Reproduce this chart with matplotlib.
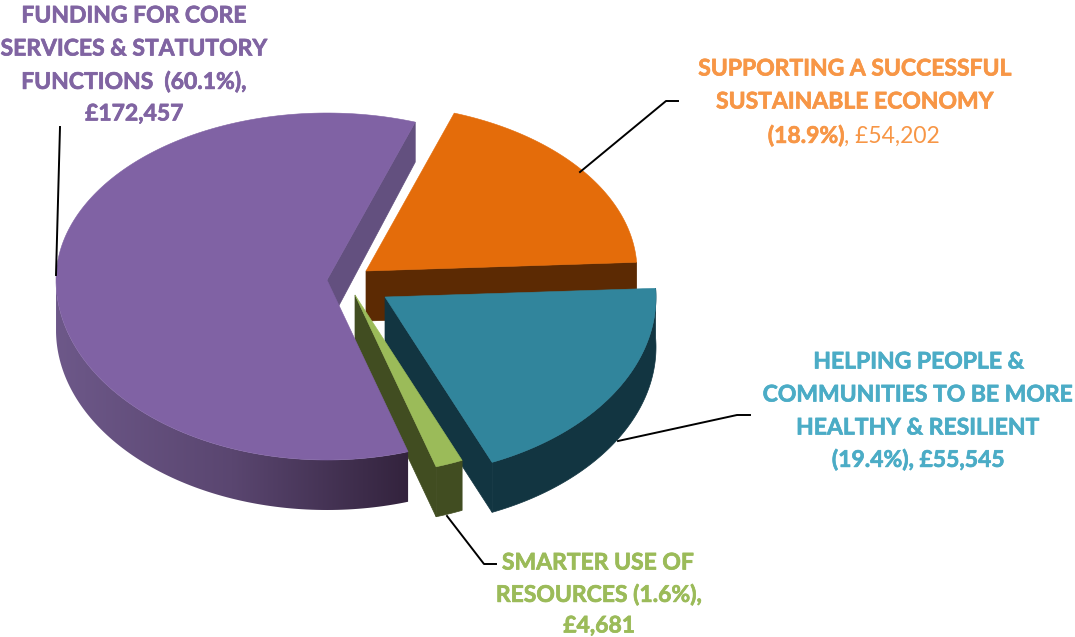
import numpy as np
import matplotlib
matplotlib.use("Agg")
import matplotlib.pyplot as plt
from matplotlib.colors import LinearSegmentedColormap
from matplotlib.patches import Polygon
import matplotlib.patheffects as pe

# data, clockwise from the start angle
names = ["orange", "teal", "green", "purple"]
amounts = [54202, 55545, 4681, 172457]

top_colors = ["#e46c0a", "#31859c", "#9bbb59", "#8062a4"]
side_colors = ["#5c2a03", "#123541", "#414d21", "#63507f"]
apexes = [(366, 271), (385, 297), (355, 295), (327, 280)]

RX = 271
RY_BACK, RY_FRONT = 167, 180  # front of the pie looks bigger
DEPTH = 50
START = 71.0


def rim(apex, a0, a1, n=200):
    t = np.radians(np.linspace(a0, a1, n))
    s = np.sin(t)
    ry = np.where(s > 0, RY_BACK, RY_FRONT)
    return np.column_stack([apex[0] + RX * np.cos(t), apex[1] - ry * s])


fig = plt.figure(figsize=(10.75, 6.37), dpi=100)
ax = fig.add_axes([0, 0, 1, 1])
ax.set_xlim(0, 1075)
ax.set_ylim(637, 0)
ax.axis("off")

sweeps = 360 * np.array(amounts) / sum(amounts)
ends = START - np.cumsum(sweeps)
starts = ends + sweeps
drop = np.array([0, DEPTH])

purple_cmap = LinearSegmentedColormap.from_list("rim", ["#6d5889", "#5a4670", "#33233d"])

for i in [3, 0, 1, 2]:
    a0, a1 = starts[i], ends[i]
    apex = np.array(apexes[i], float)
    arc = rim(apex, a0, a1)
    col = side_colors[i]

    if i == 3:
        # the cut face that shows in the notch
        p = arc[-1]
        ax.add_patch(Polygon([apex, p, p + [0, 40], apex + [0, 48]], fc=col, ec=col, lw=0.5, zorder=i))
        # rim of the big slice, dark towards the right
        front = arc[np.sin(np.radians(np.linspace(a0, a1, len(arc)))) < 0]
        shape = Polygon(np.vstack([front, (front + drop)[::-1]]), fc="none", ec="none", transform=ax.transData)
        ax.add_patch(shape)
        im = ax.imshow(np.linspace(0, 1, 256)[None, :], cmap=purple_cmap, aspect="auto",
                       extent=[front[:, 0].min(), front[:, 0].max(), 600, 200], zorder=i)
        im.set_clip_path(shape)
        ax.set_xlim(0, 1075)
        ax.set_ylim(637, 0)
    else:
        p1 = arc[-1]
        ax.add_patch(Polygon([apex, p1, p1 + drop, apex + drop], fc=col, ec=col, lw=0.5, zorder=i))
        if i != 0:
            ax.add_patch(Polygon(np.vstack([arc, (arc + drop)[::-1]]), fc=col, ec=col, lw=0.5, zorder=i))

    ax.add_patch(Polygon(np.vstack([apex, arc]), fc=top_colors[i], ec=top_colors[i], lw=0.4, zorder=i + 0.5))

# leader lines
ax.plot([60, 56], [127, 275], color="black", lw=1.4, zorder=5)
ax.plot([580, 666, 678], [172, 101, 101], color="black", lw=1.4, zorder=5)
ax.plot([618, 737, 750], [441, 415, 415], color="black", lw=1.4, zorder=-1)
ax.plot([447, 484, 496], [516, 564, 564], color="black", lw=1.4, zorder=5)


def label(cx, cy, parts, color):
    # parts is a list of (text, weight) set side by side around cx
    r = fig.canvas.get_renderer()
    ts = []
    for s, w in parts:
        t = ax.text(0, cy, s, family="Lato", fontsize=16.5, fontweight=w, color=color,
                    va="center_baseline", ha="left")
        if w == "bold":
            t.set_path_effects([pe.withStroke(linewidth=0.5, foreground=color)])
        ts.append(t)
    ws = [t.get_window_extent(r).width for t in ts]
    x = cx - sum(ws) / 2
    for t, w in zip(ts, ws):
        t.set_x(x)
        x += w


purple_txt = "#8064a2"
orange_txt = "#f79646"
teal_txt = "#4bacc6"
green_txt = "#9bbb59"

label(134, 14, [("FUNDING FOR CORE", "bold")], purple_txt)
label(134, 47, [("SERVICES & STATUTORY", "bold")], purple_txt)
label(134, 80, [("FUNCTIONS  (60.1%),", "bold")], purple_txt)
label(134, 112, [("£172,457", "bold")], purple_txt)

label(855, 67, [("SUPPORTING A SUCCESSFUL", "bold")], orange_txt)
label(855, 100, [("SUSTAINABLE ECONOMY", "bold")], orange_txt)
label(854, 134, [("(18.9%)", "bold"), (", £54,202", "normal")], orange_txt)

label(919, 360, [("HELPING PEOPLE &", "bold")], teal_txt)
label(918, 393, [("COMMUNITIES TO BE MORE", "bold")], teal_txt)
label(918, 426, [("HEALTHY & RESILIENT", "bold")], teal_txt)
label(918, 458, [("(19.4%), £55,545", "bold")], teal_txt)

label(598, 561, [("SMARTER USE OF", "bold")], green_txt)
label(599, 593, [("RESOURCES (1.6%),", "bold")], green_txt)
label(599, 624, [("£4,681", "bold")], green_txt)

fig.savefig("out.png", dpi=100)
